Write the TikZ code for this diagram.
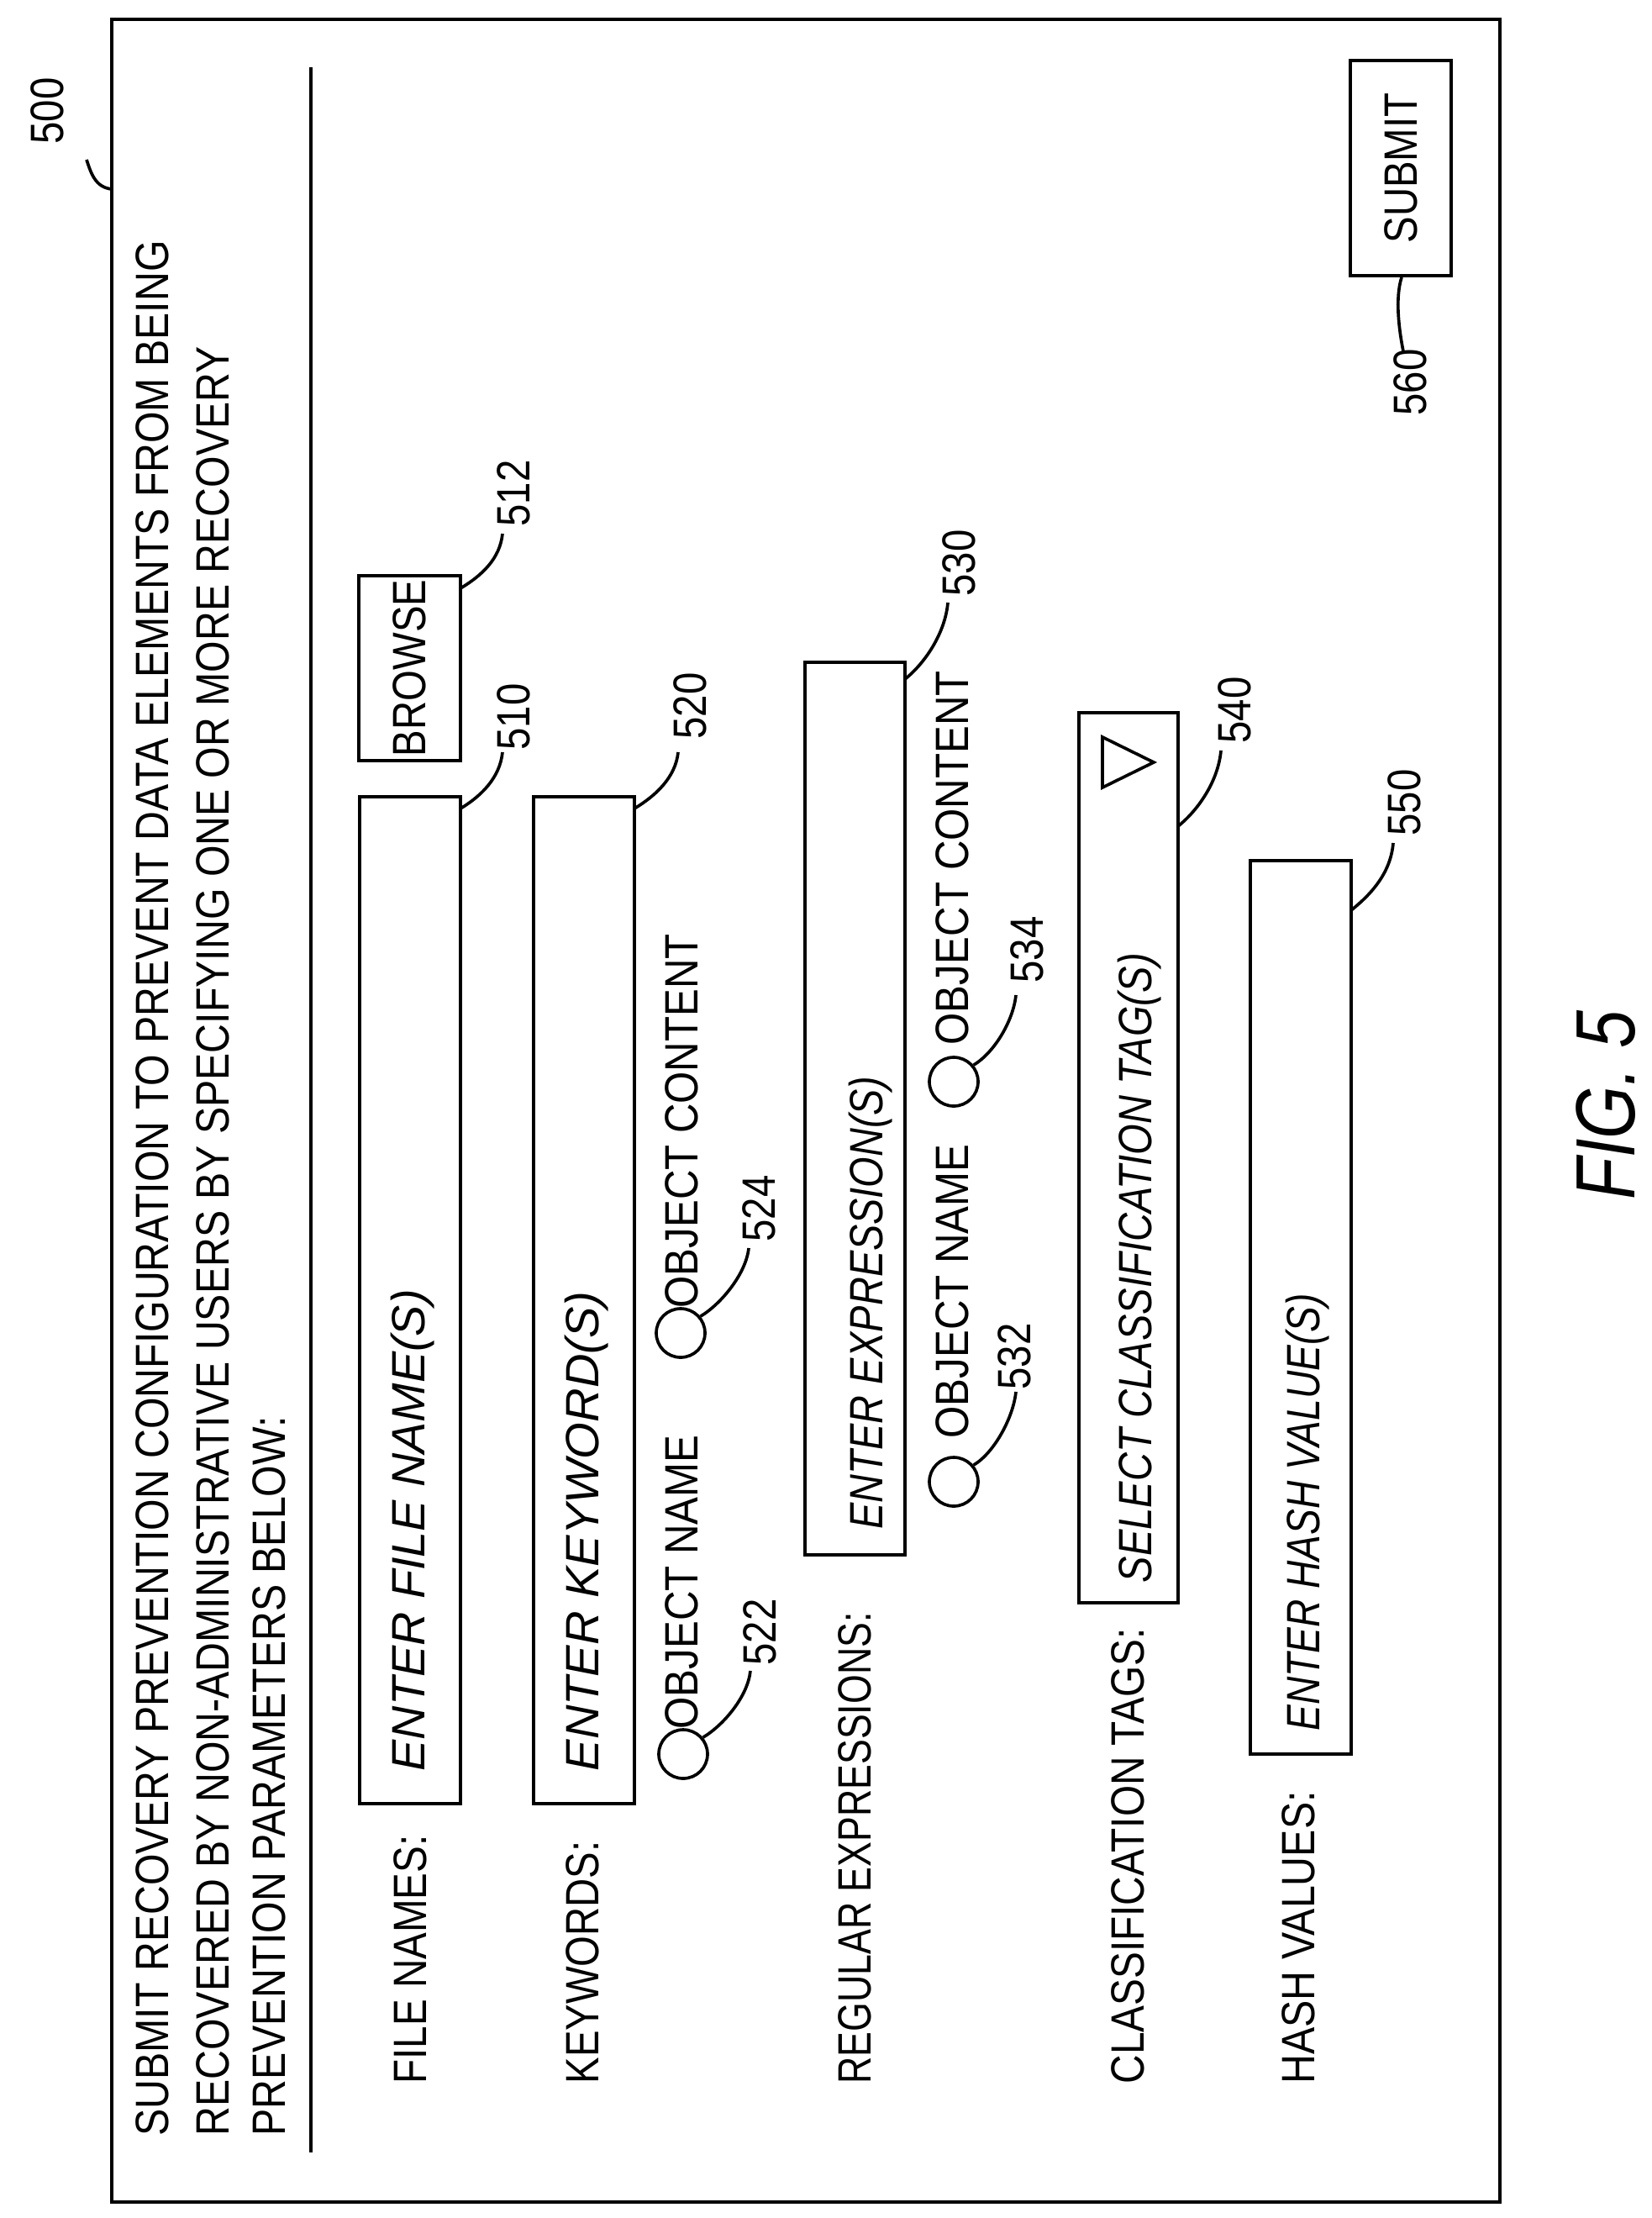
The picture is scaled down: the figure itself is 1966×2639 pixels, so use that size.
\documentclass[tikz,border=0pt]{standalone}
\usepackage{fontspec}
\setmainfont{Liberation Sans}
\usepackage{graphicx}
\usetikzlibrary{fit}
\newcommand\fitw[2]{\resizebox{#1}{\height}{#2}}
\newcommand\nar[1]{\scalebox{0.85}[1]{#1}}
\newlength\hdrlen
\begin{document}
\settowidth{\hdrlen}{\fontsize{16.7}{20}\selectfont SUBMIT RECOVERY PREVENTION CONFIGURATION TO PREVENT DATA ELEMENTS FROM BEING}%
\pgfmathsetmacro\hs{676.5/\hdrlen}%
\begin{tikzpicture}[x=0.3pt,y=-0.3pt,
  lw/.style={line width=1.1pt},
  txt/.style={rotate=90,inner sep=0,anchor=base west,font=\fontsize{16.7}{20}\selectfont},
  ital/.style={txt,font=\fontsize{16.7}{20}\selectfont\itshape},
  boxn/.style={draw,lw,inner sep=0,fit={#1}},
  radio/.style={circle,draw,lw,inner sep=0,minimum size=17.4pt},
  lead/.style={lw}]
\useasboundingbox (0,0) rectangle (1966,2639);
% outer frame
\node[boxn={(133,23)(1785,2620)}] (frame) {};
\coordinate (frameL) at (133,225);
\node[txt] (n500) at (76,172) {\nar{500}};
\draw[lead] (frameL) .. controls +(-20,-2) and +(5,15) .. (103,190) coordinate (sq);
% header
\node[txt] (h1) at (200,2542) {\scalebox{\hs}[1]{SUBMIT RECOVERY PREVENTION CONFIGURATION TO PREVENT DATA ELEMENTS FROM BEING}};
\node[txt] (h2) at (272,2542) {\scalebox{\hs}[1]{RECOVERED BY NON-ADMINISTRATIVE USERS BY SPECIFYING ONE OR MORE RECOVERY}};
\node[txt] (h3) at (339,2542) {\scalebox{\hs}[1]{PREVENTION PARAMETERS BELOW:}};
\coordinate (lt) at (370,80); \coordinate (lb) at (370,2561);
\draw[lw] (lt) -- (lb);
% labels
\node[txt] (lfn) at (507,2480) {\fitw{88.8pt}{FILE NAMES:}};
\node[txt] (lkw) at (712,2480) {\fitw{86.7pt}{KEYWORDS:}};
\node[txt] (lre) at (1036,2480) {\fitw{168.3pt}{REGULAR EXPRESSIONS:}};
\node[txt] (lct) at (1361,2480) {\fitw{162.6pt}{CLASSIFICATION TAGS:}};
\node[txt] (lhv) at (1564,2480) {\fitw{104.4pt}{HASH VALUES:}};
% file names
\node[boxn={(428,948)(548,2146)}] (b510) {};
\node[ital] (t510) at (505,2108) {\fitw{171.9pt}{ENTER FILE NAME(S)}};
\node[boxn={(427,685)(548,905)}] (b512) {};
\node[txt,anchor=center] (t512) at (487,795) {\nar{BROWSE}};
\coordinate (c510) at (548,962); \node[txt] (n510) at (630,893) {\nar{510}};
\draw[lead] (c510) .. controls +(25,-15) and +(-3,30) .. (598,895);
\coordinate (c512) at (548,700); \node[txt] (n512) at (630,627) {\nar{512}};
\draw[lead] (c512) .. controls +(25,-15) and +(-3,30) .. (598,635);
% keywords
\node[boxn={(635,948)(755,2146)}] (b520) {};
\node[ital] (t520) at (712,2108) {\fitw{171.3pt}{ENTER KEYWORD(S)}};
\coordinate (c520) at (755,962); \node[txt] (n520) at (840,880) {\nar{520}};
\draw[lead] (c520) .. controls +(25,-15) and +(-3,30) .. (807,895);
\node[radio] (r522) at (813,2087) {};
\node[txt] (t522) at (830,2058) {\fitw{105pt}{OBJECT NAME}};
\node[txt] (n522) at (923,1982) {\nar{522}};
\draw[lead] (r522.40) .. controls +(25,-15) and +(-3,30) .. (893,1988);
\node[radio] (r524) at (810,1586) {};
\node[txt] (t524) at (830,1557) {\fitw{133.5pt}{OBJECT CONTENT}};
\node[txt] (n524) at (922,1478) {\nar{524}};
\draw[lead] (r524.40) .. controls +(25,-15) and +(-3,30) .. (891,1485);
% regular expressions
\node[boxn={(958,788)(1077,1850)}] (b530) {};
\node[ital] (t530) at (1050,1820) {\fitw{161.7pt}{ENTER EXPRESSION(S)}};
\coordinate (c530) at (1077,808); \node[txt] (n530) at (1160,710) {\nar{530}};
\draw[lead] (c530) .. controls +(25,-20) and +(-3,35) .. (1128,717);
\node[radio] (r532) at (1135,1763) {};
\node[txt] (t532) at (1152,1712) {\fitw{105pt}{OBJECT NAME}};
\node[txt] (n532) at (1226,1654) {\nar{532}};
\draw[lead] (r532.40) .. controls +(25,-15) and +(-3,30) .. (1209,1656);
\node[radio] (r534) at (1135,1287) {};
\node[txt] (t534) at (1152,1244) {\fitw{133.5pt}{OBJECT CONTENT}};
\node[txt] (n534) at (1241,1170) {\nar{534}};
\draw[lead] (r534.40) .. controls +(25,-15) and +(-3,30) .. (1209,1184);
% classification tags
\node[boxn={(1284,848)(1402,1907)}] (b540) {};
\node[ital] (t540) at (1370,1884) {\fitw{224.7pt}{SELECT CLASSIFICATION TAG(S)}};
\draw[lw] (1312,877) coordinate (tr1) -- (1312,937) coordinate (tr2) -- (1373,907) coordinate (tr3) -- cycle;
\coordinate (c540) at (1402,983); \node[txt] (n540) at (1488,885) {\nar{540}};
\draw[lead] (c540) .. controls +(25,-20) and +(-3,35) .. (1453,893);
% hash values
\node[boxn={(1488,1024)(1608,2087)}] (b550) {};
\node[ital] (t550) at (1570,2060) {\fitw{156pt}{ENTER HASH VALUE(S)}};
\coordinate (c550) at (1608,1083); \node[txt] (n550) at (1690,995) {\nar{550}};
\draw[lead] (c550) .. controls +(25,-20) and +(-3,35) .. (1658,1003);
% submit
\node[boxn={(1607,72)(1727,328)}] (b560) {};
\node[txt,anchor=center] (t560) at (1667,200) {\nar{SUBMIT}};
\coordinate (c560) at (1668,330); \node[txt] (n560) at (1697,495) {\nar{560}};
\draw[lead] (c560) .. controls +(-8,25) and +(-5,-25) .. (1670,418);
% figure label
\node[txt,font=\fontsize{30}{34}\selectfont\itshape] (fig) at (1945,1428) {\fitw{67.5pt}{FIG. 5}};
\end{tikzpicture}
\end{document}
